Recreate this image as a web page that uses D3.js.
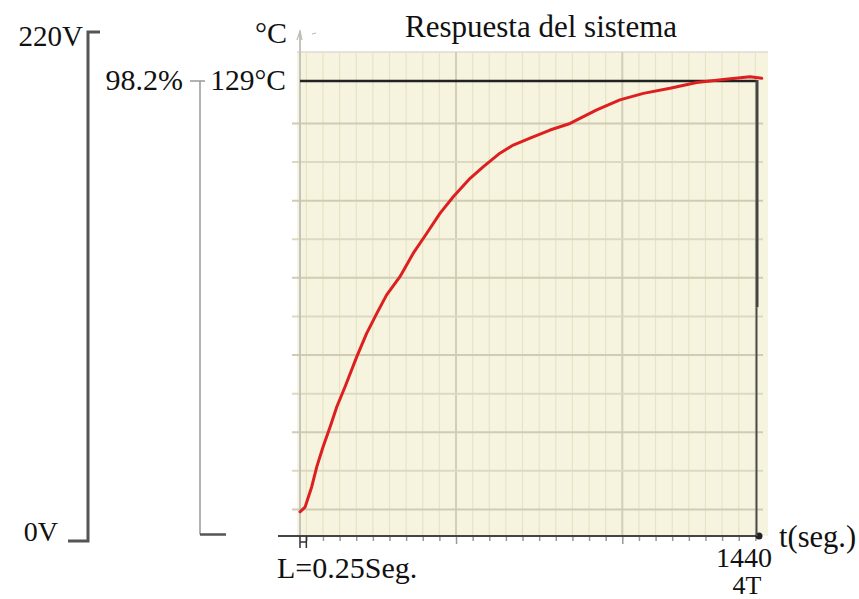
<!DOCTYPE html>
<html>
    <head>
        <meta charset="utf-8">
        <title>Respuesta del sistema</title>
        <script src="https://d3js.org/d3.v7.min.js"></script>
        <style>
            body { margin: 0; background: #fff; }
            svg { display: block; }
            text { font-family: "Liberation Serif", "Times New Roman", serif; fill: #111; }
        </style>
    </head>
    <body>
        <svg></svg>
        <script>
            // curva de temperatura (segundos, °C)
            const tiempo = [0, 16, 37, 53, 73, 95, 116, 142, 179, 210, 242, 273, 315, 357, 399, 441, 483, 536, 578, 630, 672, 725, 788, 851, 935, 1008, 1082, 1166, 1250, 1334, 1418, 1455];
            const temperatura = [17.4, 18.6, 23.9, 29.1, 34.3, 39.4, 44.6, 49.8, 57.6, 63.6, 68.8, 73.6, 78.3, 84.4, 89.5, 94.7, 99.0, 103.8, 106.8, 110.3, 112.4, 114.2, 116.3, 118.0, 121.5, 124.1, 125.8, 127.1, 128.6, 129.4, 130.1, 129.7];

            // escalon de entrada
            const voltaje = [0, 220];
            const voltajeTexto = ['0V', '220V'];

            // valor final y tiempo 4T
            const tempFinal = 129;
            const tiempoFinal = 1440;
            const tiempoMuerto = [0, 20];
            const tempCorte = 70.4;

            // rejilla del osciloscopio
            const gridX = d3.range(20, 1440, 52.4);
            const gridXMayor = [gridX[9], gridX[19]];
            const gridY = [18, 28, 38, 48, 58, 68, 78, 88, 98, 108, 118];

            const width = 859;
            const height = 599;
            const plotLeft = 300, plotRight = 757, plotTop = 52, plotBottom = 536;

            const svg = d3.select('svg').attr('width', width).attr('height', height);

            const x = d3.scaleLinear().domain([0, tiempoFinal]).range([plotLeft, plotRight]);
            const y = d3.scaleLinear().domain([tempFinal - (plotBottom - 81) / 3.86, tempFinal + (81 - plotTop) / 3.86]).range([plotBottom, plotTop]);
            const v = d3.scaleLinear().domain(voltaje).range([541, 32]);

            // fondo
            svg.append('rect').attr('x', plotLeft - 3).attr('y', plotTop).attr('width', 471).attr('height', plotBottom - plotTop).attr('fill', '#f6f4de');
            svg.append('line').attr('x1', plotLeft - 3).attr('x2', plotLeft + 468).attr('y1', plotTop).attr('y2', plotTop).attr('stroke', '#dcdcd4').attr('stroke-width', 1.5);

            // rejilla vertical
            svg.append('g').selectAll('line').data(gridX).enter().append('line')
                .attr('x1', d => x(d)).attr('x2', d => x(d))
                .attr('y1', plotTop).attr('y2', plotBottom)
                .attr('stroke', '#e6e3c6').attr('stroke-width', 1.2);
            svg.append('g').selectAll('line').data(gridXMayor).enter().append('line')
                .attr('x1', d => x(d)).attr('x2', d => x(d))
                .attr('y1', plotTop).attr('y2', plotBottom)
                .attr('stroke', '#d2cfb6').attr('stroke-width', 2);

            // rejilla horizontal
            svg.append('g').selectAll('line').data(gridY).enter().append('line')
                .attr('x1', plotLeft - 8).attr('x2', 763)
                .attr('y1', d => y(d)).attr('y2', d => y(d))
                .attr('stroke', (d, i) => i % 2 == 0 ? '#cfccb3' : '#dcd9c1')
                .attr('stroke-width', 2);

            // eje y
            svg.append('line').attr('x1', plotLeft).attr('x2', plotLeft).attr('y1', 31).attr('y2', plotBottom)
                .attr('stroke', '#c4c4bc').attr('stroke-width', 2);
            svg.append('path').attr('d', 'M297,40 L300,31 L302,40').attr('fill', 'none').attr('stroke', '#bbb').attr('stroke-width', 1.2);
            svg.append('line').attr('x1', 312).attr('x2', 316).attr('y1', 34).attr('y2', 33).attr('stroke', '#bbb').attr('stroke-width', 1.2);

            // eje x con marcas
            const ejeX = svg.append('g').attr('transform', 'translate(0,' + plotBottom + ')')
                .call(d3.axisBottom(x).tickValues(gridX).tickSize(5).tickFormat(''));
            ejeX.select('.domain').remove();
            ejeX.selectAll('.tick line').attr('stroke', '#999').attr('stroke-width', 1.5)
                .attr('y2', d => gridXMayor.includes(d) ? 8 : 5);

            svg.append('line').attr('x1', 278).attr('x2', x(tiempoFinal)).attr('y1', plotBottom).attr('y2', plotBottom)
                .attr('stroke', '#444').attr('stroke-width', 2);
            svg.append('circle').attr('cx', x(tiempoFinal) + 2).attr('cy', plotBottom).attr('r', 3.5).attr('fill', '#222');

            // marca del tiempo muerto L
            svg.append('path')
                .attr('d', 'M' + x(tiempoMuerto[0]) + ',' + plotBottom + ' V548 M' + x(tiempoMuerto[1]) + ',' + plotBottom + ' V548 M' + x(tiempoMuerto[0]) + ',542 H' + x(tiempoMuerto[1]))
                .attr('fill', 'none').attr('stroke', '#333').attr('stroke-width', 1.5);

            // nivel final 129°C y linea de 4T
            svg.append('line').attr('x1', plotLeft).attr('x2', x(tiempoFinal)).attr('y1', y(tempFinal)).attr('y2', y(tempFinal))
                .attr('stroke', '#222').attr('stroke-width', 2.5);
            svg.append('line').attr('x1', x(tiempoFinal)).attr('x2', x(tiempoFinal)).attr('y1', y(tempFinal) - 1).attr('y2', y(tempCorte))
                .attr('stroke', '#444').attr('stroke-width', 3);
            svg.append('line').attr('x1', x(tiempoFinal) - 0.5).attr('x2', x(tiempoFinal) - 0.5).attr('y1', y(tempCorte)).attr('y2', plotBottom)
                .attr('stroke', '#4a4a4a').attr('stroke-width', 2);

            // curva de respuesta
            const puntos = tiempo.map((t, i) => [t, temperatura[i]]);
            svg.append('path').datum(puntos)
                .attr('d', d3.line().x(d => x(d[0])).y(d => y(d[1])))
                .attr('fill', 'none').attr('stroke', '#dd1f1f').attr('stroke-width', 3)
                .attr('stroke-linejoin', 'round').attr('stroke-linecap', 'round');

            // escalon de 0V a 220V
            svg.append('path')
                .attr('d', 'M68,' + v(voltaje[0]) + ' H88 V' + v(voltaje[1]) + ' H100')
                .attr('fill', 'none').attr('stroke', '#555').attr('stroke-width', 3);

            // referencia 98.2% / 129°C
            svg.append('path').attr('d', 'M190,' + y(tempFinal) + ' H205 M200,' + y(tempFinal) + ' V' + (plotBottom - 1.5))
                .attr('fill', 'none').attr('stroke', '#999').attr('stroke-width', 1.5);
            svg.append('line').attr('x1', 200).attr('x2', 226).attr('y1', plotBottom - 1.5).attr('y2', plotBottom - 1.5)
                .attr('stroke', '#555').attr('stroke-width', 2.5);

            // textos
            const texto = (t, px, py, size, anchor) => svg.append('text').text(t)
                .attr('x', px).attr('y', py).attr('font-size', size).attr('text-anchor', anchor || 'start');

            texto('Respuesta del sistema', 405, 37, 31);
            texto('°C', 287, 43, 30, 'end');
            texto(voltajeTexto[1], 83, v(voltaje[1]) + 14, 29, 'end');
            texto(voltajeTexto[0], 58, v(voltaje[0]), 28, 'end');
            texto('98.2%', 183, y(tempFinal) + 9, 30, 'end');
            texto(tempFinal + '°C', 286, y(tempFinal) + 9, 29.5, 'end');
            texto('L=0.25Seg.', 277, 578, 30);
            texto(tiempoFinal, 744, 567, 28, 'middle');
            texto('4T', 747, 594, 26, 'middle');
            texto('t(seg.)', 779, 547, 30.5);
        </script>
    </body>
</html>
